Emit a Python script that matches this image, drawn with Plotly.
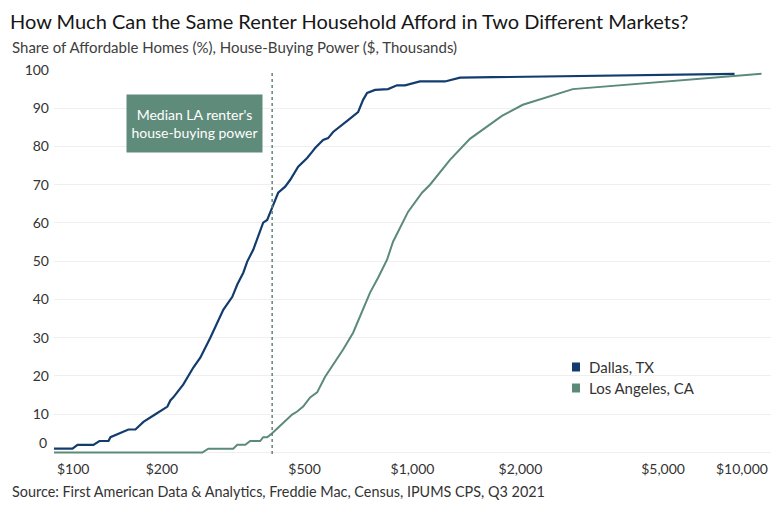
import math
import plotly.graph_objects as go

# House-buying power ($ thousands) and share of affordable homes (%)
dallas_x = [100, 112.6, 116.3, 128.8, 133.9, 141.9, 143.7, 153.2, 161.3, 168.7, 177.6, 191.8,
            207.2, 211.1, 215.2, 229.5, 244.7, 255.9, 272.9, 296.6, 314.3, 324.5, 337.3, 345.9,
            359.5, 383.2, 393.2, 406, 422, 441.4, 456, 479.8, 508.3, 524.8, 535, 563.2, 581.6,
            600.5, 620, 661.3, 705.1, 728.1, 747.1, 786.3, 854.8, 905.3, 953, 1049, 1232, 1357, 7912]
dallas_y = [1, 1, 2, 2, 3, 3, 4, 5, 6, 6, 8, 10,
            12, 13.6, 14.4, 17.8, 22.2, 24.8, 30, 37.3, 40.7, 43.9, 47, 49.9,
            53, 60.1, 60.8, 64, 67.9, 69.5, 71.3, 74.7, 77, 78.6, 79.6, 81.7, 82.2,
            83.8, 84.9, 86.9, 89, 92.2, 94, 94.8, 95, 96, 96, 97, 97, 98, 99]

la_x = [100, 259.3, 269.4, 316.2, 324.5, 341.6, 352.6, 376, 383.2, 393.2, 406, 435.8, 461.6,
        476.7, 495.4, 518.1, 542, 570.5, 600.5, 640.5, 682.9, 728.1, 761.4, 801.6, 849.2,
        882.5, 971.6, 1063, 1119, 1272, 1446, 1776, 2031, 2800, 9408]
la_y = [0, 0, 1, 1, 2, 2, 3, 3, 4, 4, 5, 7.8, 9.9,
        10.7, 12, 14.4, 15.7, 19.8, 23, 26.9, 31.3, 37.3, 41.8, 45.7, 50.4,
        55.1, 62.9, 67.9, 70, 76.5, 82, 88, 90.9, 95, 99]

series_names = ["Dallas, TX", "Los Angeles, CA"]
median_la_power = 406

x_tick_vals = [200, 500, 1000, 2000, 5000]
x_tick_text = ["$200", "$500", "$1,000", "$2,000", "$5,000"]
x_edge_vals = [100, 10000]
x_edge_text = ["$100", "$10,000"]
y_tick_vals = [0, 10, 20, 30, 40, 50, 60, 70, 80, 90, 100]
y_tick_text = ["", "10", "20", "30", "40", "50", "60", "70", "80", "90", "100"]

DALLAS = "#123c6e"
LA = "#5b8a78"
BOX = "#5f8b7b"
FONT = "Lato"
TXT = "#333333"
W, H = 780, 506
L, R, T, B = 54, 9, 70, 52
PW, PH = W - L - R, H - T - B


def px_x(px):
    return (px - L) / PW


def px_y(py):
    return (H - B - py) / PH


fig = go.Figure()
fig.add_trace(go.Scatter(x=la_x, y=la_y, mode="lines", name=series_names[1],
                         line=dict(color=LA, width=2), showlegend=False, hoverinfo="skip"))
fig.add_trace(go.Scatter(x=dallas_x, y=dallas_y, mode="lines", name=series_names[0],
                         line=dict(color=DALLAS, width=2.2), showlegend=False, hoverinfo="skip"))

# median LA marker line
fig.add_shape(type="line", xref="x", yref="paper", x0=median_la_power, x1=median_la_power,
              y0=0, y1=1, line=dict(color="#5a7c70", width=1.4, dash="3px,3px"))

fig.add_annotation(x=math.log10(247), y=86, xref="x", yref="y",
                   text="Median LA renter's<br>house-buying power",
                   showarrow=False, bgcolor=BOX, width=135, height=57, borderpad=0,
                   font=dict(family=FONT, size=14, color="white"), align="center")

# edge tick labels kept inside the plot width
fig.add_annotation(x=math.log10(x_edge_vals[0]), y=0, xref="x", yref="paper", text=x_edge_text[0],
                   showarrow=False, xanchor="left", yanchor="middle", yshift=-14, xshift=1,
                   font=dict(family=FONT, size=14, color=TXT))
fig.add_annotation(x=math.log10(x_edge_vals[1]), y=0, xref="x", yref="paper", text=x_edge_text[1],
                   showarrow=False, xanchor="right", yanchor="middle", yshift=-14, xshift=-1,
                   font=dict(family=FONT, size=14, color=TXT))
fig.add_annotation(x=0, y=0, xref="paper", yref="y", text="0", showarrow=False,
                   xanchor="right", yanchor="bottom", xshift=-5, yshift=-1,
                   font=dict(family=FONT, size=14, color=TXT))

# legend (square swatches)
for name, col, cy in zip(series_names, [DALLAS, LA], [367, 388]):
    fig.add_shape(type="rect", xref="paper", yref="paper",
                  x0=px_x(572), x1=px_x(580), y0=px_y(cy + 4.5), y1=px_y(cy - 4.5),
                  fillcolor=col, line=dict(width=0))
    fig.add_annotation(x=px_x(587), y=px_y(cy), xref="paper", yref="paper",
                       xanchor="left", yanchor="middle", showarrow=False, text=name,
                       font=dict(family=FONT, size=15, color=TXT))

fig.add_annotation(x=px_x(10), y=px_y(47), xref="paper", yref="paper",
                   xanchor="left", yanchor="middle", showarrow=False,
                   text="Share of Affordable Homes (%), House-Buying Power ($, Thousands)",
                   font=dict(family=FONT, size=15, color="#404040"))
fig.add_annotation(x=px_x(10), y=px_y(491), xref="paper", yref="paper",
                   xanchor="left", yanchor="middle", showarrow=False,
                   text="Source: First American Data & Analytics, Freddie Mac, Census, IPUMS CPS, Q3 2021",
                   font=dict(family=FONT, size=14.4, color=TXT))

fig.update_layout(
    width=W, height=H,
    margin=dict(l=L, r=R, t=T, b=B),
    paper_bgcolor="white", plot_bgcolor="white",
    showlegend=False,
    title=dict(text="How Much Can the Same Renter Household Afford in Two Different Markets?",
               x=10 / W, xref="container", xanchor="left",
               y=1 - 22 / H, yref="container", yanchor="middle",
               font=dict(family=FONT, size=20, color="#161616")),
    xaxis=dict(type="log", range=[2, 4], tickvals=x_tick_vals, ticktext=x_tick_text,
               showgrid=False, zeroline=False, showline=False, ticks="", automargin=False,
               ticklabelstandoff=5,
               tickfont=dict(family=FONT, size=14, color=TXT)),
    yaxis=dict(range=[-0.4, 100], tickvals=y_tick_vals, ticktext=y_tick_text,
               showgrid=True, gridcolor="#efefef", gridwidth=1, zeroline=False,
               showline=False, ticks="", ticklabelstandoff=4, automargin=False,
               tickfont=dict(family=FONT, size=14, color=TXT)),
)

fig.write_html("out.html", config={"displayModeBar": False},
               post_script="document.body.style.margin='0px';")
